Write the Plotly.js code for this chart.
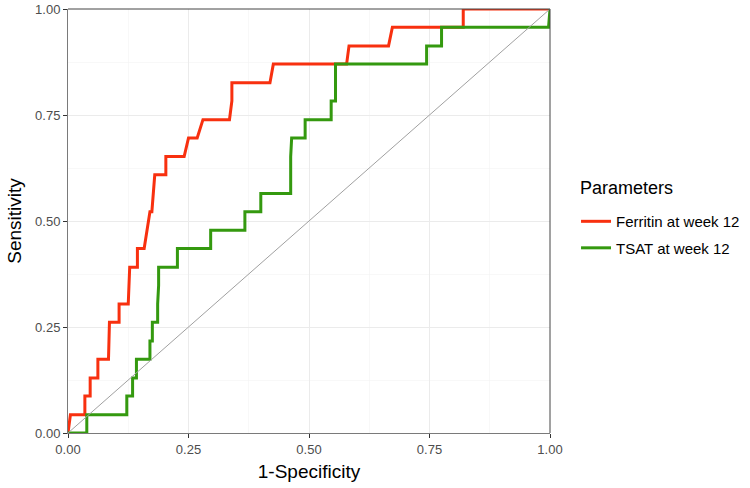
<!DOCTYPE html>
<html>
<head>
<meta charset="utf-8">
<script src="https://cdn.plot.ly/plotly-3.0.1.min.js"></script>
<style>html,body{margin:0;padding:0;background:#fff;}#chart{width:750px;height:488px;}</style>
</head>
<body>
<div id="chart"></div>
<script>
const seriesNames = ["Ferritin at week 12", "TSAT at week 12"];
const legendTitle = "Parameters";
const ferritinFPR = [0,0.005,0.035,0.035,0.046,0.046,0.062,0.062,0.084,0.085,0.086,0.106,0.106,0.125,0.127,0.128,0.144,0.144,0.158,0.170,0.174,0.180,0.203,0.203,0.241,0.250,0.268,0.280,0.335,0.340,0.340,0.419,0.426,0.578,0.583,0.665,0.673,0.820,0.820,1];
const ferritinTPR = [0,0.043,0.043,0.087,0.087,0.130,0.130,0.174,0.174,0.217,0.261,0.261,0.304,0.304,0.348,0.391,0.391,0.435,0.435,0.522,0.522,0.609,0.609,0.652,0.652,0.696,0.696,0.739,0.739,0.783,0.826,0.826,0.870,0.870,0.913,0.913,0.957,0.957,1,1];
const tsatFPR = [0,0.039,0.039,0.122,0.122,0.134,0.134,0.142,0.142,0.170,0.170,0.175,0.175,0.186,0.186,0.188,0.188,0.227,0.227,0.296,0.296,0.367,0.367,0.400,0.400,0.462,0.462,0.464,0.492,0.492,0.546,0.546,0.555,0.555,0.744,0.744,0.775,0.775,0.997,1];
const tsatTPR = [0,0,0.043,0.043,0.087,0.087,0.130,0.130,0.174,0.174,0.217,0.217,0.261,0.261,0.304,0.348,0.391,0.391,0.435,0.435,0.478,0.478,0.522,0.522,0.565,0.565,0.652,0.696,0.696,0.739,0.739,0.783,0.783,0.870,0.870,0.913,0.913,0.957,0.957,1];
const refLine = [0, 1];
const tickVals = [0, 0.25, 0.5, 0.75, 1];
const tickText = ["0.00", "0.25", "0.50", "0.75", "1.00"];

const FONT = "Liberation Sans, Arial, sans-serif";
const traces = [
  {x: ferritinFPR, y: ferritinTPR, name: seriesNames[0], legendgroup: "g1", type: "scatter", mode: "lines",
   line: {color: "#F8300F", width: 3}},
  {x: tsatFPR, y: tsatTPR, name: seriesNames[1], legendgroup: "g2", type: "scatter", mode: "lines",
   line: {color: "#34990F", width: 3}},
  {x: refLine, y: refLine, type: "scatter", mode: "lines", showlegend: false,
   line: {color: "#a0a0a0", width: 1}, hoverinfo: "skip"}
];

const axisCommon = {
  range: [0, 1], tickvals: tickVals, ticktext: tickText,
  showgrid: true, gridcolor: "#ebebeb", gridwidth: 1,
  minor: {dtick: 0.125, tick0: 0, showgrid: true, gridcolor: "#f3f3f3", gridwidth: 0.6},
  zeroline: false, showline: true, linecolor: "#7a7a7a", linewidth: 1,
  ticks: "outside", ticklen: 4, tickcolor: "#333333", tickwidth: 1,
  tickfont: {family: FONT, size: 13, color: "#4d4d4d"}
};

const layout = {
  width: 750, height: 488,
  margin: {l: 68, r: 200, t: 9, b: 55, autoexpand: false},
  paper_bgcolor: "#ffffff", plot_bgcolor: "#ffffff",
  font: {family: FONT},
  xaxis: Object.assign({}, axisCommon, {
    title: {text: "1-Specificity", font: {family: FONT, size: 19, color: "#000"}, standoff: 9}
  }),
  yaxis: Object.assign({}, axisCommon, {
    title: {text: "Sensitivity", font: {family: FONT, size: 19, color: "#000"}, standoff: 8}
  }),
  showlegend: true,
  legend: {
    x: 1.054, xanchor: "left", y: 0.468, yanchor: "middle",
    font: {family: FONT, size: 15, color: "#000"},
    itemwidth: 30, tracegroupgap: 4, bgcolor: "rgba(0,0,0,0)"
  },
  annotations: [
    {text: legendTitle, xref: "paper", yref: "paper", x: 1.058, y: 0.578,
     xanchor: "left", yanchor: "middle", showarrow: false,
     font: {family: FONT, size: 18, color: "#000"}}
  ],
  shapes: [
    {type: "line", xref: "paper", yref: "paper", x0: 0, x1: 1, y0: 1, y1: 1, line: {color: "#444", width: 1}},
    {type: "line", xref: "paper", yref: "paper", x0: 1, x1: 1, y0: 0, y1: 1, line: {color: "#444", width: 1}}
  ]
};

Plotly.newPlot("chart", traces, layout, {displayModeBar: false, staticPlot: true});
</script>
</body>
</html>
